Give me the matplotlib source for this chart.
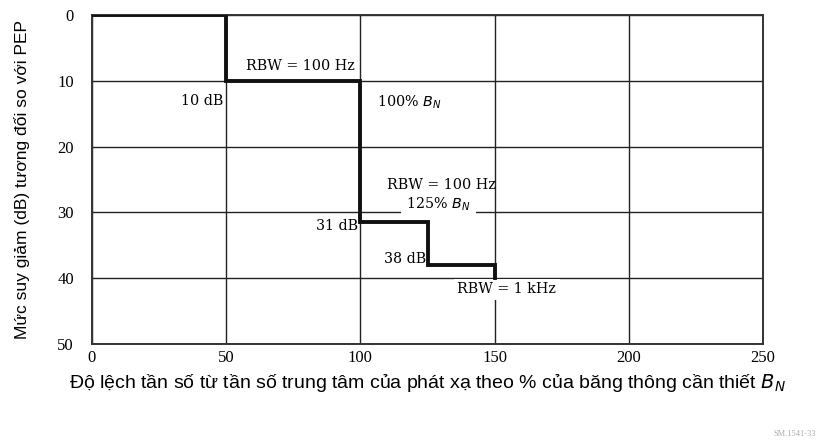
import matplotlib
matplotlib.use("Agg")
import matplotlib.pyplot as plt

# Step mask data
step_x = [0, 50, 50, 100, 100, 125, 125, 150, 150]
step_y = [0, 0, 10, 10, 31.5, 31.5, 38, 38, 40]
x_ticks = [0, 50, 100, 150, 200, 250]
y_ticks = [0, 10, 20, 30, 40, 50]

serif = ["Liberation Serif", "DejaVu Serif"]
aserif = ["DejaVu Serif"]
sans = ["Liberation Sans", "DejaVu Sans"]

fig = plt.figure(figsize=(8.24, 4.43), dpi=100)
ax = fig.add_axes([92/824, 1-344/443, (763-92)/824, (344-15)/443])
ax.set_xlim(0, 250)
ax.set_ylim(50, 0)
ax.set_xticks(x_ticks)
ax.set_yticks(y_ticks)
ax.tick_params(length=0, labelsize=12)
ax.tick_params(axis="x", pad=4)
ax.tick_params(axis="y", pad=13)
for lab in ax.get_xticklabels() + ax.get_yticklabels():
    lab.set_fontfamily(serif)
ax.grid(True, color="#222222", lw=1.0, zorder=1)
ax.set_axisbelow(True)
for sp in ax.spines.values():
    sp.set_linewidth(1.4)
    sp.set_color("#333333")

ax.plot(step_x, step_y, color="#111111", lw=2.8, zorder=4, solid_joinstyle="miter")

ts = 10.3
wb = dict(facecolor="white", edgecolor="none", pad=1.5)
ax.text(77.5, 7.7, "RBW = 100 Hz", ha="center", va="center", fontsize=ts, family=aserif, bbox=wb, zorder=3)
ax.text(49, 13.0, "10 dB", ha="right", va="center", fontsize=ts, family=aserif, zorder=3)
ax.text(106, 13.2, "100% $B_N$", ha="left", va="center", fontsize=ts, family=aserif, zorder=3)
ax.text(130, 25.8, "RBW = 100 Hz", ha="center", va="center", fontsize=ts, family=aserif, zorder=3)
ax.text(129, 28.7, "125% $B_N$", ha="center", va="center", fontsize=ts, family=aserif,
        bbox=dict(facecolor="white", edgecolor="none", pad=4), zorder=3)
ax.text(99, 32.1, "31 dB", ha="right", va="center", fontsize=ts, family=aserif, zorder=3)
ax.text(124.5, 37.1, "38 dB", ha="right", va="center", fontsize=ts, family=aserif, zorder=3)
ax.text(154.5, 41.7, "RBW = 1 kHz", ha="center", va="center", fontsize=ts, family=aserif,
        bbox=dict(facecolor="white", edgecolor="none", pad=2.5), zorder=3)

ax.set_ylabel("Mức suy giảm (dB) tương đối so với PEP", fontsize=12.5, family=sans, labelpad=20)
ax.set_xlabel("Độ lệch tần số từ tần số trung tâm của phát xạ theo % của băng thông cần thiết $B_N$",
              fontsize=14, family=sans, labelpad=5)

fig.text(0.99, 0.012, "SM.1541-33", ha="right", va="bottom", fontsize=6, color="#aaaaaa", family=serif)

fig.savefig("out.png", dpi=100)
